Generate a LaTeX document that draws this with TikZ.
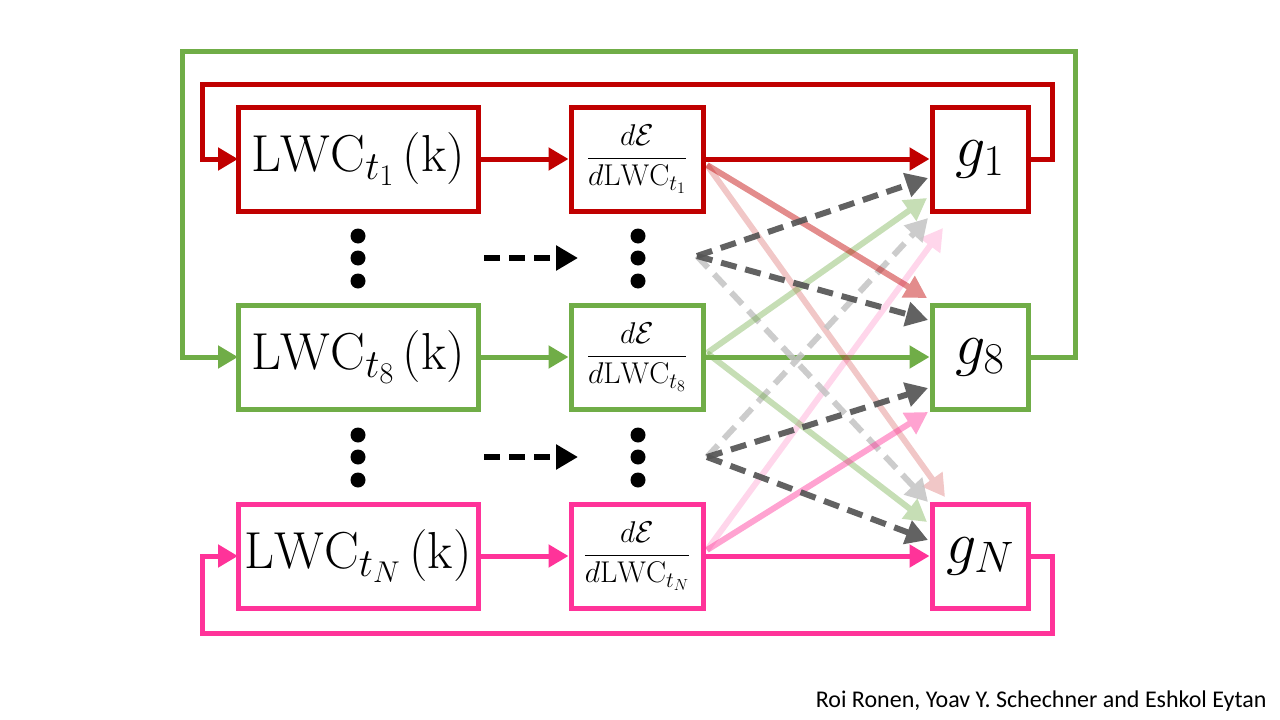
\RequirePackage{fix-cm}
\documentclass[tikz,border=0pt]{standalone}
\usepackage{fontspec}
\newfontfamily\creditfont{Carlito}
\DeclareMathSizes{52}{52}{40}{30}
\DeclareMathSizes{30}{30}{22}{16}
\DeclareMathSizes{60}{60}{44}{32}
\usetikzlibrary{arrows.meta,calc}
\definecolor{cred}{RGB}{192,0,0}
\definecolor{cgreen}{RGB}{112,173,71}
\definecolor{cpink}{RGB}{255,51,153}
\definecolor{cdark}{RGB}{85,85,85}
\definecolor{clight}{RGB}{195,195,195}
\begin{document}
\begin{tikzpicture}[x=1pt,y=-1pt,
  box/.style={draw=#1, line width=5pt, fill=white, inner sep=0pt, minimum height=104pt, text=black},
  lwcbox/.style={box=#1, minimum width=240pt, font=\fontsize{52}{60}\selectfont},
  derbox/.style={box=#1, minimum width=132pt, font=\fontsize{30}{34}\selectfont},
  gbox/.style={box=#1, minimum width=96pt, font=\fontsize{60}{68}\selectfont},
  arr/.style={line width=5pt, -{Triangle[length=20pt,width=22pt]}},
  xarr/.style={line width=6pt, -{Triangle[length=22pt,width=24pt]}},
  darr/.style={xarr, dash pattern=on 16pt off 9pt},
  dot/.style={circle, fill=black, inner sep=0pt, minimum size=15pt},
  loop/.style={line width=5pt, -{Triangle[length=20pt,width=22pt]}},
  faint/.style={transparency group, opacity=#1}
]
\useasboundingbox (0,0) rectangle (1280,720);

% coordinates for loops
\coordinate (r1) at (1052,84);
\coordinate (r2) at (202,84);
\coordinate (q1) at (1075,51);
\coordinate (q2) at (182,51);
\coordinate (p1) at (1052,633);
\coordinate (p2) at (202,633);

% loops (drawn first, behind boxes)
\draw[loop, cgreen] (1030,357) -| (q1) -- (q2) |- (238,357);
\draw[loop, cred] (1030,159) -| (r1) -- (r2) |- (238,159);
\draw[loop, cpink] (1030,556) -| (p1) -- (p2) |- (238,556);

% boxes
\node[lwcbox=cred]   (l1) at (358,159) {$\mathrm{LWC}_{t_1}\,(\mathrm{k})$};
\node[lwcbox=cgreen] (l8) at (358,357) {$\mathrm{LWC}_{t_8}\,(\mathrm{k})$};
\node[lwcbox=cpink]  (lN) at (358,556) {$\mathrm{LWC}_{t_N}\,(\mathrm{k})$};

\node[derbox=cred]   (d1) at (637,159) {$\displaystyle\frac{d\mathcal{E}}{d\mathrm{LWC}_{t_1}}$};
\node[derbox=cgreen] (d8) at (637,357) {$\displaystyle\frac{d\mathcal{E}}{d\mathrm{LWC}_{t_8}}$};
\node[derbox=cpink]  (dN) at (637,556) {$\displaystyle\frac{d\mathcal{E}}{d\mathrm{LWC}_{t_N}}$};

\node[gbox=cred]   (g1) at (980,159) {$g_1$};
\node[gbox=cgreen] (g8) at (980,357) {$g_8$};
\node[gbox=cpink]  (gN) at (980,556) {$g_N$};

% straight arrows
\draw[arr, cred]   (l1) -- (d1);
\draw[arr, cgreen] (l8) -- (d8);
\draw[arr, cpink]  (lN) -- (dN);
\draw[arr, cred]   (d1) -- (g1);
\draw[arr, cgreen] (d8) -- (g8);
\draw[arr, cpink]  (dN) -- (gN);

% dots
\foreach \yy [count=\i] in {236,258,281,435,457,480} {
  \node[dot] (ldot\i) at (358,\yy) {};
  \node[dot] (ddot\i) at (638,\yy) {};
}
\coordinate (h1s) at (484,258); \coordinate (h1e) at (578,258);
\coordinate (h2s) at (484,457); \coordinate (h2e) at (578,457);
\draw[darr, black] (h1s) -- (h1e);
\draw[darr, black] (h2s) -- (h2e);

% cross arrow start/end points
\coordinate (s1) at (707,165);
\coordinate (s8) at (707,353);
\coordinate (sN) at (707,550);
\coordinate (k1) at (697,256);
\coordinate (k2) at (707,457);

\coordinate (e1a) at (927,298);
\coordinate (e1b) at (945,497);
\coordinate (e8a) at (927,198);
\coordinate (e8b) at (927,522);
\coordinate (eNa) at (943,228);
\coordinate (eNb) at (928,412);
\coordinate (k1a) at (928,178);
\coordinate (k1b) at (928,320);
\coordinate (k1c) at (928,502);
\coordinate (k2a) at (928,388);
\coordinate (k2b) at (928,540);
\coordinate (k2c) at (928,218);

% faint arrows
\begin{scope}[faint=0.22]\draw[xarr, cred] (s1) -- (e1b);\end{scope}
\begin{scope}[faint=0.2]\draw[xarr, cpink] (sN) -- (eNa);\end{scope}
\begin{scope}[faint=0.85]\draw[darr, clight] (k1) -- (k1c);\end{scope}
\begin{scope}[faint=0.85]\draw[darr, clight] (k2) -- (k2c);\end{scope}
\begin{scope}[faint=0.4]\draw[xarr, cgreen] (s8) -- (e8a);\end{scope}
\begin{scope}[faint=0.4]\draw[xarr, cgreen] (s8) -- (e8b);\end{scope}
\begin{scope}[faint=0.45]\draw[xarr, cred] (s1) -- (e1a);\end{scope}
\begin{scope}[faint=0.45]\draw[xarr, cpink] (sN) -- (eNb);\end{scope}
% dark dashed
\begin{scope}[faint=0.92]\draw[darr, cdark] (k1) -- (k1a);\end{scope}
\begin{scope}[faint=0.92]\draw[darr, cdark] (k1) -- (k1b);\end{scope}
\begin{scope}[faint=0.92]\draw[darr, cdark] (k2) -- (k2a);\end{scope}
\begin{scope}[faint=0.92]\draw[darr, cdark] (k2) -- (k2b);\end{scope}

\node[anchor=base east, font=\creditfont\fontsize{24}{28}\selectfont] (credit) at (1270,707) {Roi Ronen, Yoav Y. Schechner and Eshkol Eytan};
\end{tikzpicture}
\end{document}
